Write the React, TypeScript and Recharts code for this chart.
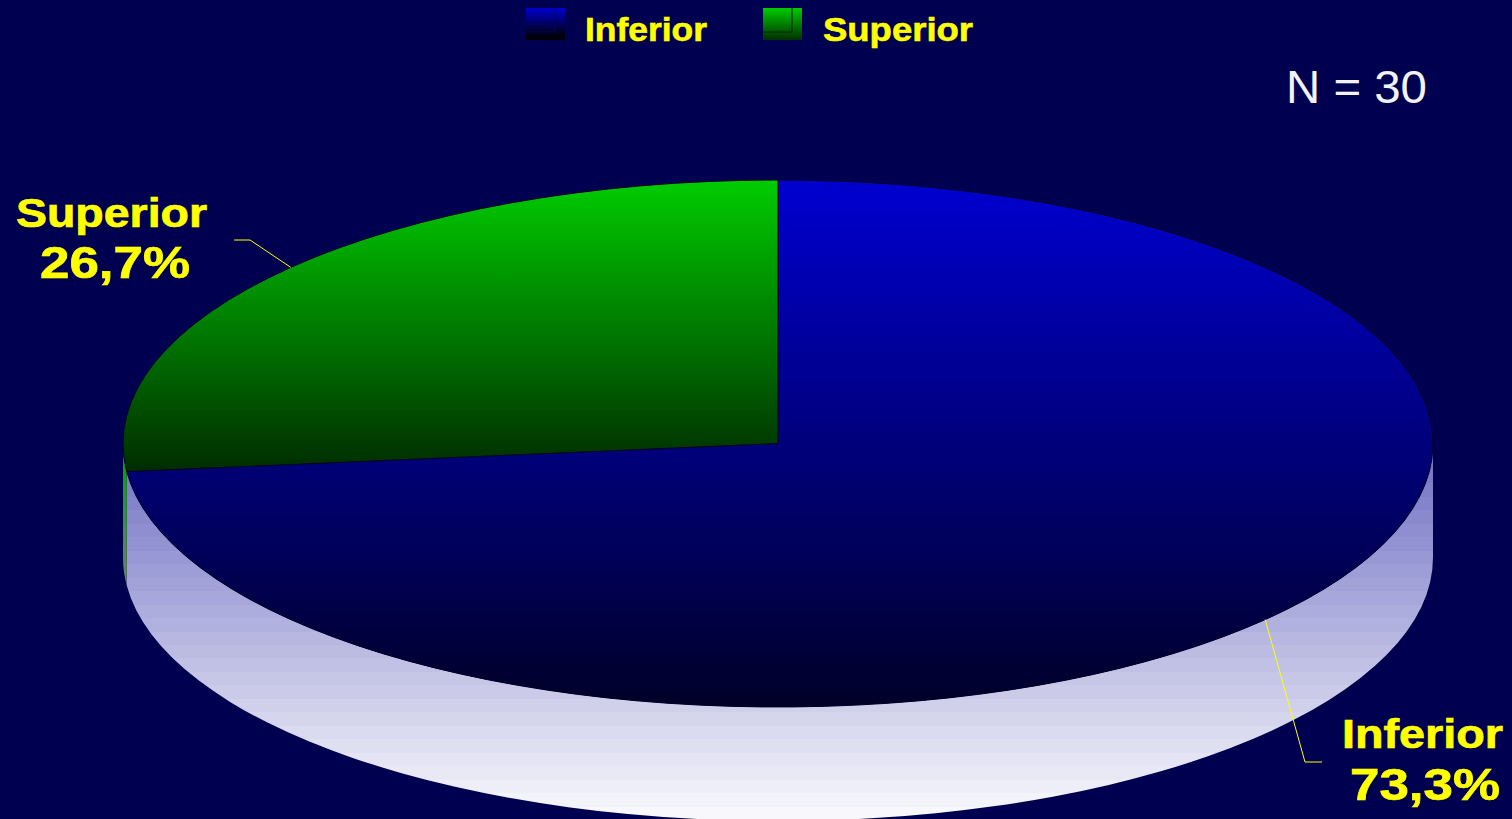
import React from 'react';
import { PieChart, Pie, Legend } from 'recharts';

const categories = ['Inferior', 'Superior'];
const shares = [73.3, 26.7];
const sampleNote = 'N = 30';

const pieData = categories.map((name, i) => ({ name, value: shares[i] }));

const WIDTH = 1512;
const HEIGHT = 819;
const SQUASH = 0.4023;
const DEPTH = 114;
const FONT = '"Liberation Sans", Arial, sans-serif';
const YELLOW = '#ffff00';

const topFills = ['url(#topBlue)', 'url(#topGreen)'];
const wallFills = ['url(#wallBlue)', 'url(#wallGreen)'];

// hand placed label boxes, one per category
const labelBoxes = [
  { x: 1342, w: 161, y: 748, numX: 1350, numW: 150, numY: 800, elbow: [1305, 762], end: [1322, 762] },
  { x: 16, w: 191, y: 227, numX: 40, numW: 150, numY: 278, elbow: [250, 240], end: [234, 240] },
];

const legendBoxes = [
  { x: 526, w: 39, textX: 585, textW: 122 },
  { x: 763, w: 39, textX: 823, textW: 150 },
];

// the wall in the original is banded, not a smooth ramp
const WALL_BANDS = 28;
const wallStops: React.ReactNode[] = [];
for (let i = 0; i < WALL_BANDS; i++) {
  const t = i / (WALL_BANDS - 1);
  const r = Math.round(0x70 + (0xf8 - 0x70) * t);
  const b = Math.round(0xc4 + (0xfc - 0xc4) * t);
  const color = `rgb(${r},${r},${b})`;
  wallStops.push(<stop key={`a${i}`} offset={i / WALL_BANDS} stopColor={color} />);
  wallStops.push(<stop key={`b${i}`} offset={(i + 1) / WALL_BANDS} stopColor={color} />);
}

const rad = (a: number) => (a * Math.PI) / 180;

const rimPoint = (cx: number, cy: number, r: number, a: number) => [
  cx + r * Math.cos(rad(a)),
  cy - r * SQUASH * Math.sin(rad(a)),
];

// recharts gives circular sectors, squash them into the tilted disc
const TopShape = (props: any) => {
  const { cx, cy, outerRadius: r, startAngle, endAngle, index } = props;
  const [x0, y0] = rimPoint(cx, cy, r, startAngle);
  const [x1, y1] = rimPoint(cx, cy, r, endAngle);
  const large = Math.abs(startAngle - endAngle) > 180 ? 1 : 0;
  const d = `M${cx},${cy} L${x0},${y0} A${r},${r * SQUASH} 0 ${large} 1 ${x1},${y1} Z`;
  return <path d={d} fill={topFills[index]} stroke="#000028" strokeWidth={1} />;
};

const WallShape = (props: any) => {
  const { cx, cy, outerRadius: r, startAngle, endAngle, index } = props;
  const hi = Math.min(startAngle, 0);
  const lo = Math.max(endAngle, -180);
  if (hi <= lo) return <g />;
  const [x0, y0] = rimPoint(cx, cy, r, hi);
  const [x1, y1] = rimPoint(cx, cy, r, lo);
  const ry = r * SQUASH;
  const d = `M${x0},${y0} A${r},${ry} 0 0 1 ${x1},${y1} L${x1},${y1 + DEPTH} A${r},${ry} 0 0 0 ${x0},${y0 + DEPTH} Z`;
  return <path d={d} fill={wallFills[index]} />;
};

const renderLabel = (props: any) => {
  const { cx, cy, outerRadius, midAngle, name, value, index } = props;
  const box = labelBoxes[index];
  const [px, py] = rimPoint(cx, cy, outerRadius, midAngle);
  const style = { fontFamily: FONT, fontWeight: 700 };
  return (
    <g>
      <polyline
        points={`${px},${py} ${box.elbow[0]},${box.elbow[1]} ${box.end[0]},${box.end[1]}`}
        fill="none"
        stroke={YELLOW}
        strokeWidth={1}
      />
      <text x={box.x} y={box.y} fontSize={40} fill={YELLOW} stroke={YELLOW} strokeWidth={0.7} style={style} textLength={box.w} lengthAdjust="spacingAndGlyphs">
        {name}
      </text>
      <text x={box.numX} y={box.numY} fontSize={44} fill={YELLOW} stroke={YELLOW} strokeWidth={0.7} style={style} textLength={box.numW} lengthAdjust="spacingAndGlyphs">
        {`${String(value).replace('.', ',')}%`}
      </text>
    </g>
  );
};

const renderLegend = () => (
  <svg width={WIDTH} height={60} style={{ display: 'block' }}>
    <defs>
      <linearGradient id="swatchBlue" gradientUnits="userSpaceOnUse" x1="0" y1="8" x2="0" y2="36">
        <stop offset="0" stopColor="#0000d0" />
        <stop offset="1" stopColor="#000008" />
      </linearGradient>
      <linearGradient id="swatchGreen" gradientUnits="userSpaceOnUse" x1="0" y1="8" x2="0" y2="40">
        <stop offset="0" stopColor="#00cc00" />
        <stop offset="1" stopColor="#003000" />
      </linearGradient>
    </defs>
    {categories.map((name, i) => {
      const b = legendBoxes[i];
      const fill = i === 0 ? 'url(#swatchBlue)' : 'url(#swatchGreen)';
      const innerR = b.x + b.w - 10;
      return (
        <g key={name}>
          <rect x={b.x} y={8} width={b.w} height={32} fill={fill} />
          <polyline points={`${innerR},8 ${innerR},32 ${b.x},32`} fill="none" stroke={i === 0 ? '#000060' : '#002000'} strokeWidth={1} />
          <text
            x={b.textX}
            y={41}
            fontSize={34}
            fill={YELLOW}
            stroke={YELLOW}
            strokeWidth={0.6}
            style={{ fontFamily: FONT, fontWeight: 700 }}
            textLength={b.textW}
            lengthAdjust="spacingAndGlyphs"
          >
            {name}
          </text>
        </g>
      );
    })}
  </svg>
);

export default function App() {
  return (
    <div style={{ position: 'absolute', left: 0, top: 0, width: WIDTH, height: HEIGHT, background: '#000050', overflow: 'hidden' }}>
      <PieChart width={WIDTH} height={HEIGHT} margin={{ top: 0, right: 0, bottom: 0, left: 0 }}>
        <defs>
          <linearGradient id="topBlue" x1="0" y1="0" x2="0" y2="1">
            <stop offset="0" stopColor="#0000d0" />
            <stop offset="1" stopColor="#000028" />
          </linearGradient>
          <linearGradient id="topGreen" x1="0" y1="0" x2="0" y2="1">
            <stop offset="0" stopColor="#00cc00" />
            <stop offset="1" stopColor="#002c00" />
          </linearGradient>
          <linearGradient id="wallBlue" gradientUnits="userSpaceOnUse" x1="0" y1="443" x2="0" y2="820">
            {wallStops}
          </linearGradient>
          <linearGradient id="wallGreen" gradientUnits="userSpaceOnUse" x1="0" y1="443" x2="0" y2="590">
            <stop offset="0" stopColor="#00a000" />
            <stop offset="1" stopColor="#708070" />
          </linearGradient>
        </defs>
        <Pie
          data={pieData}
          dataKey="value"
          nameKey="name"
          cx={778}
          cy={443.5}
          outerRadius={655}
          startAngle={90}
          endAngle={-270}
          paddingAngle={0}
          stroke="none"
          legendType="none"
          shape={WallShape}
          isAnimationActive={false}
        />
        <Pie
          data={pieData}
          dataKey="value"
          nameKey="name"
          cx={778}
          cy={443.5}
          outerRadius={655}
          startAngle={90}
          endAngle={-270}
          paddingAngle={0}
          shape={TopShape}
          label={renderLabel}
          labelLine={false}
          isAnimationActive={false}
        />
        <text x={1286} y={103} fontSize={47} fill="#f2f2f8" style={{ fontFamily: FONT }} textLength={141} lengthAdjust="spacingAndGlyphs">
          {sampleNote}
        </text>
        <Legend
          layout="horizontal"
          verticalAlign="middle"
          align="center"
          content={renderLegend}
          wrapperStyle={{ left: 0, top: 0, width: WIDTH, height: 60 }}
        />
      </PieChart>
    </div>
  );
}
